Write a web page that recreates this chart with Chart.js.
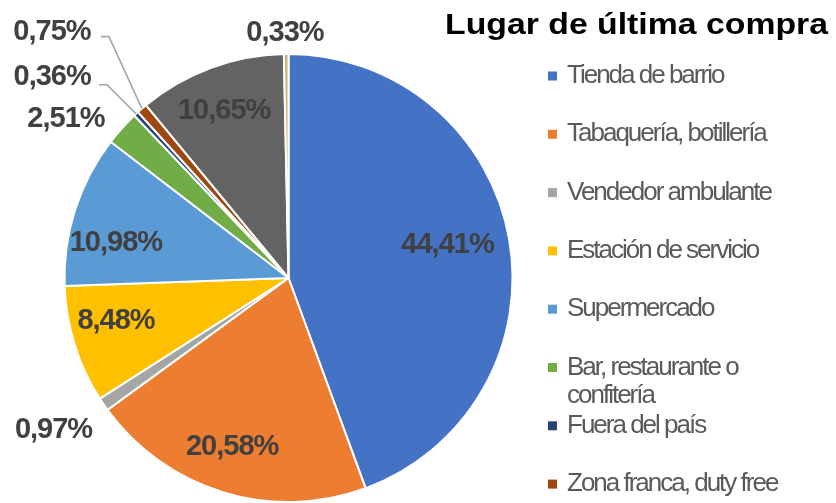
<!DOCTYPE html>
<html>
<head>
<meta charset="utf-8">
<script src="https://cdn.jsdelivr.net/npm/chart.js@4.4.1/dist/chart.umd.min.js"></script>
<style>
  body { margin: 0; background: #fff; }
  #wrap { width: 836px; height: 503px; }
</style>
</head>
<body>
<div id="wrap"><canvas id="lugarCompra" width="836" height="503"></canvas></div>
<script>
const title = "Lugar de última compra";
const categories = [
  "Tienda de barrio",
  "Tabaquería, botillería",
  "Vendedor ambulante",
  "Estación de servicio",
  "Supermercado",
  "Bar, restaurante o confitería",
  "Fuera del país",
  "Zona franca, duty free",
  "Otro",
  "No sabe / No responde"
];
const percentages = [44.41, 20.58, 0.97, 8.48, 10.98, 2.51, 0.36, 0.75, 10.65, 0.33];
const colors = ["#4472C4", "#ED7D31", "#A5A5A5", "#FFC000", "#5B9BD5", "#70AD47", "#264478", "#9E480E", "#636363", "#CDB072"];
const legendCount = 8; // only the first 8 fit in the legend box

// label placement: f = fraction of radius along the slice middle, dx/dy nudges
const labelPlace = [
  { f: 0.73, dx: -2, dy: -4 },
  { f: 0.79, dx: -5, dy: 0 },
  { f: 1.2, dx: -13, dy: 0 },
  { f: 0.83, dx: 5, dy: -12 },
  { f: 0.79, dx: -4, dy: 19 },
  { f: 1.15, dx: -31, dy: 13 },
  { f: 1.0, dx: -84, dy: -37, leader: [-29, -29] },
  { f: 1.0, dx: -90, dy: -77, leader: [-33, -72] },
  { f: 0.8, dx: -2, dy: 1 },
  { f: 1.1, dx: -1, dy: 1 }
];

const fmt = v => v.toFixed(2).replace(".", ",") + "%";
const FONT = '"Liberation Sans", Arial, sans-serif';

const pieLabels = {
  id: "pieLabels",
  afterDatasetsDraw(chart) {
    const ctx = chart.ctx;
    const meta = chart.getDatasetMeta(0);
    ctx.save();
    ctx.font = "bold 29px " + FONT;
    ctx.letterSpacing = "-1px";
    ctx.fillStyle = "#404040";
    ctx.textBaseline = "middle";
    meta.data.forEach((arc, i) => {
      const p = arc.getProps(["x", "y", "startAngle", "endAngle", "outerRadius"], true);
      const mid = (p.startAngle + p.endAngle) / 2;
      const pl = labelPlace[i];
      const r = p.outerRadius * pl.f;
      const x = p.x + Math.cos(mid) * r + pl.dx;
      const y = p.y + Math.sin(mid) * r + pl.dy;
      if (pl.leader) {
        const ex = p.x + Math.cos(mid) * p.outerRadius;
        const ey = p.y + Math.sin(mid) * p.outerRadius;
        const bx = ex + pl.leader[0], by = ey + pl.leader[1];
        ctx.strokeStyle = "#A6A6A6";
        ctx.lineWidth = 1.6;
        ctx.beginPath();
        ctx.moveTo(ex, ey);
        ctx.lineTo(bx, by);
        ctx.lineTo(bx - 8, by);
        ctx.stroke();
      }
      ctx.textAlign = "center";
      ctx.fillText(fmt(percentages[i]), x, y);
    });
    ctx.restore();
  }
};

const sideLegend = {
  id: "sideLegend",
  afterDraw(chart) {
    const ctx = chart.ctx;
    ctx.save();
    // title
    ctx.font = "bold 30px " + FONT;
    ctx.fillStyle = "#000";
    ctx.textBaseline = "alphabetic";
    const tw = ctx.measureText(title).width;
    ctx.translate(445, 34);
    ctx.scale(383 / tw, 1);
    ctx.fillText(title, 0, 0);
    ctx.setTransform(1, 0, 0, 1, 0, 0);

    // legend entries
    ctx.font = "26px " + FONT;
    ctx.letterSpacing = "-2px";
    ctx.textBaseline = "middle";
    const x0 = 548, y0 = 76, step = 58.3, lineH = 28, maxW = 220;
    for (let i = 0; i < legendCount; i++) {
      const y = y0 + i * step;
      ctx.fillStyle = colors[i];
      ctx.fillRect(x0, y - 4.5, 9, 9);
      ctx.fillStyle = "#595959";
      const words = categories[i].split(" ");
      let line = "", ly = y;
      words.forEach(w => {
        const test = line ? line + " " + w : w;
        if (line && ctx.measureText(test).width > maxW) {
          ctx.fillText(line, x0 + 19, ly);
          line = w;
          ly += lineH;
        } else {
          line = test;
        }
      });
      ctx.fillText(line, x0 + 19, ly);
    }
    ctx.restore();
  }
};

new Chart(document.getElementById("lugarCompra").getContext("2d"), {
  type: "pie",
  data: {
    labels: categories,
    datasets: [{
      data: percentages,
      backgroundColor: colors,
      borderColor: "#FFFFFF",
      borderWidth: 2
    }]
  },
  options: {
    responsive: false,
    animation: false,
    layout: { padding: { left: 63, right: 322, top: 53, bottom: 0 } },
    plugins: {
      legend: { display: false },
      title: { display: false },
      tooltip: { enabled: false }
    }
  },
  plugins: [pieLabels, sideLegend]
});
</script>
</body>
</html>
